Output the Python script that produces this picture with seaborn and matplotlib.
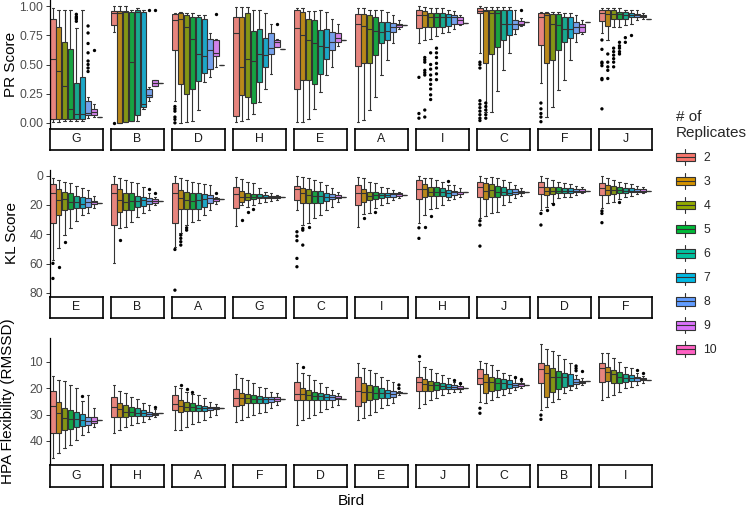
import numpy as np
import pandas as pd
import matplotlib
matplotlib.use("Agg")
import matplotlib.pyplot as plt
import seaborn as sns
from matplotlib.patches import Rectangle
from matplotlib.lines import Line2D
from matplotlib.legend_handler import HandlerBase

sns.set_style("white")
plt.rcParams["font.family"] = ["Liberation Sans", "DejaVu Sans"]

reps = ["2", "3", "4", "5", "6", "7", "8", "9", "10"]
rep_colors = ["#F8766D", "#D39200", "#93AA00", "#00BA38", "#00C19F",
              "#00B9E3", "#619CFF", "#DB72FB", "#FF61C3"]

# ---- PR score: (lower whisker, q1, median, q3, upper whisker) per replicate count
pr_birds = ["G", "B", "D", "H", "E", "A", "I", "C", "F", "J"]
pr_stats = {
  "G": [(0.01, 0.037, 0.55, 0.886, 0.98), (0.01, 0.03, 0.443, 0.82, 0.97), (0.02, 0.03, 0.314, 0.694, 0.97),
        (0.02, 0.03, 0.123, 0.63, 0.966), (0.02, 0.03, 0.075, 0.343, 0.81), (0.02, 0.03, 0.08, 0.39, 0.966),
        (0.04, 0.066, 0.086, 0.19, 0.22), (0.05, 0.066, 0.09, 0.12, 0.16), (0.05,)],
  "B": [(0.78, 0.84, 0.94, 0.96, 1.0), (0.0, 0.0, 0.94, 0.957, 1.0), (0.005, 0.005, 0.946, 0.957, 1.0),
        (0.02, 0.02, 0.52, 0.951, 0.97), (0.02, 0.066, 0.951, 0.966, 0.98), (0.12, 0.14, 0.16, 0.951, 0.966),
        (0.19, 0.22, 0.24, 0.29, 0.31), (0.32, 0.32, 0.345, 0.37, 0.37), (0.34,)],
  "D": [(0.19, 0.62, 0.88, 0.931, 0.937), (0.0, 0.33, 0.89, 0.937, 0.946), (0.01, 0.25, 0.82, 0.923, 0.94),
        (0.02, 0.29, 0.72, 0.909, 0.937), (0.11, 0.36, 0.59, 0.903, 0.923), (0.35, 0.43, 0.57, 0.889, 0.923),
        (0.39, 0.46, 0.62, 0.72, 0.766), (0.48, 0.57, 0.6, 0.71, 0.72), (0.5,)],
  "H": [(0.01, 0.06, 0.77, 0.91, 0.99), (0.02, 0.24, 0.48, 0.91, 0.99), (0.03, 0.22, 0.55, 0.94, 0.994),
        (0.08, 0.17, 0.53, 0.79, 0.97), (0.18, 0.35, 0.59, 0.8, 0.966), (0.29, 0.48, 0.58, 0.73, 0.943),
        (0.42, 0.59, 0.64, 0.77, 0.851), (0.646, 0.65, 0.69, 0.714, 0.72), (0.63,)],
  "E": [(0.01, 0.29, 0.81, 0.971, 0.98), (0.01, 0.37, 0.75, 0.951, 0.98), (0.037, 0.37, 0.71, 0.889, 0.957),
        (0.123, 0.33, 0.68, 0.88, 0.957), (0.266, 0.42, 0.66, 0.794, 0.966), (0.41, 0.55, 0.65, 0.8, 0.951),
        (0.48, 0.62, 0.69, 0.78, 0.894), (0.66, 0.69, 0.73, 0.77, 0.851), (0.71,)],
  "A": [(0.01, 0.49, 0.85, 0.931, 0.98), (0.023, 0.51, 0.83, 0.931, 0.98), (0.11, 0.51, 0.8, 0.923, 0.966),
        (0.22, 0.58, 0.79, 0.909, 0.966), (0.41, 0.68, 0.78, 0.866, 0.966), (0.54, 0.71, 0.79, 0.866, 0.951),
        (0.68, 0.78, 0.82, 0.857, 0.923), (0.8, 0.82, 0.837, 0.851, 0.88), (0.837,)],
  "I": [(0.68, 0.81, 0.92, 0.971, 1.0), (0.71, 0.823, 0.92, 0.957, 0.994), (0.72, 0.817, 0.903, 0.943, 0.98),
        (0.74, 0.823, 0.909, 0.943, 0.98), (0.766, 0.823, 0.909, 0.937, 0.98), (0.78, 0.829, 0.909, 0.931, 0.97),
        (0.8, 0.846, 0.903, 0.923, 0.96), (0.837, 0.851, 0.88, 0.903, 0.923), (0.857,)],
  "C": [(0.6, 0.94, 0.96, 0.98, 1.0), (0.09, 0.51, 0.957, 0.971, 0.99), (0.09, 0.59, 0.94, 0.971, 0.99),
        (0.27, 0.65, 0.937, 0.971, 0.99), (0.45, 0.71, 0.85, 0.971, 0.994), (0.6, 0.75, 0.85, 0.971, 0.99),
        (0.76, 0.8, 0.85, 0.88, 0.97), (0.83, 0.84, 0.85, 0.87, 0.9), (0.86,)],
  "F": [(0.34, 0.67, 0.91, 0.937, 0.951), (0.05, 0.51, 0.92, 0.937, 0.951), (0.14, 0.54, 0.85, 0.931, 0.951),
        (0.28, 0.62, 0.84, 0.931, 0.951), (0.37, 0.69, 0.8, 0.909, 0.937), (0.54, 0.73, 0.8, 0.903, 0.937),
        (0.69, 0.77, 0.82, 0.866, 0.923), (0.76, 0.78, 0.82, 0.851, 0.88), (0.86,)],
  "J": [(0.77, 0.87, 0.94, 0.971, 0.98), (0.71, 0.83, 0.93, 0.966, 0.98), (0.82, 0.886, 0.931, 0.966, 0.98),
        (0.82, 0.894, 0.931, 0.951, 0.98), (0.837, 0.894, 0.923, 0.946, 0.97), (0.846, 0.903, 0.923, 0.937, 0.966),
        (0.88, 0.909, 0.923, 0.931, 0.966), (0.886, 0.903, 0.914, 0.923, 0.943), (0.886,)],
}
pr_out = {
  "G": {"6": [0.93, 0.91, 0.9, 0.89, 0.87], "8": [0.83, 0.77, 0.68, 0.6, 0.53, 0.5, 0.47, 0.44], "9": [0.62]},
  "B": {"2": [0.0], "8": [0.97], "9": [0.97]},
  "D": {"2": [0.14, 0.12, 0.1, 0.05, 0.03, 0.0], "9": [0.93]},
  "H": {"9": [0.85]},
  "I": {"2": [0.39, 0.08, 0.04], "3": [0.56, 0.54, 0.52, 0.45, 0.43, 0.41, 0.11, 0.05],
        "4": [0.6, 0.5, 0.46, 0.41, 0.37, 0.33, 0.29, 0.24, 0.2], "5": [0.64, 0.6, 0.56, 0.51, 0.47, 0.42, 0.37]},
  "C": {"2": [0.52, 0.5, 0.47, 0.19, 0.16, 0.13, 0.1, 0.07, 0.04, 0.02], "3": [0.17, 0.14, 0.11, 0.07, 0.04], "9": [0.97]},
  "F": {"2": [0.17, 0.12, 0.08, 0.05, 0.01]},
  "J": {"2": [0.71, 0.63, 0.52, 0.51, 0.49, 0.38, 0.37, 0.12], "3": [0.59, 0.52, 0.48, 0.45, 0.38],
        "4": [0.64, 0.61, 0.58, 0.55, 0.52, 0.48], "5": [0.69, 0.66, 0.64, 0.61, 0.59], "6": [0.73, 0.69], "7": [0.75]},
}

# ---- KL score
kl_birds = ["E", "B", "A", "G", "C", "I", "H", "J", "D", "F"]
kl_stats = {
  "E": [(1.8, 5.7, 12.1, 32.6, 57.7), (3.0, 9.3, 16.6, 26.9, 49.7), (4.1, 11.0, 16.2, 23.5, 40.6),
        (5.2, 12.1, 17.8, 23.0, 36.0), (7.1, 13.9, 17.8, 22.3, 30.8), (8.7, 14.4, 19.4, 22.3, 26.9),
        (9.8, 15.5, 17.8, 21.2, 25.8), (13.9, 17.1, 18.2, 19.4, 21.9), (18.5,)],
  "B": [(0.0, 5.7, 12.1, 33.7, 59.9), (1.8, 9.3, 16.6, 24.6, 36.0), (3.0, 12.1, 17.8, 23.5, 34.9),
        (4.1, 12.1, 17.1, 23.5, 31.5), (5.2, 13.9, 17.1, 21.2, 28.0), (7.5, 14.4, 16.6, 20.7, 25.8),
        (11.5, 15.5, 17.1, 19.4, 23.5), (14.4, 16.2, 17.1, 18.5, 20.1), (17.1,)],
  "A": [(0.2, 4.8, 12.1, 32.6, 48.5), (1.8, 9.8, 15.5, 23.0, 39.4), (3.0, 10.9, 16.6, 23.0, 33.7),
        (4.1, 12.1, 17.1, 23.0, 31.5), (5.2, 12.1, 16.6, 23.0, 30.3), (5.7, 12.5, 16.2, 21.2, 26.9),
        (6.4, 13.2, 15.5, 18.5, 23.5), (14.4, 15.3, 15.9, 17.1, 19.4), (16.2,)],
  "G": [(0.7, 7.5, 12.7, 22.3, 34.2), (2.3, 10.5, 14.3, 17.8, 20.0), (4.1, 12.0, 14.3, 16.6, 21.2),
        (5.2, 12.5, 14.3, 15.9, 20.1), (8.7, 12.8, 14.3, 15.5, 18.9), (10.9, 13.2, 14.4, 15.5, 18.2),
        (12.1, 13.6, 14.4, 15.1, 17.4), (13.2, 14.0, 14.6, 15.1, 16.6), (14.8,)],
  "C": [(0.0, 7.1, 9.3, 16.6, 23.5), (0.7, 8.7, 12.1, 18.9, 33.7), (1.8, 9.3, 13.2, 18.5, 32.6),
        (3.0, 10.3, 13.9, 18.5, 29.2), (4.1, 10.3, 13.9, 18.5, 26.9), (6.4, 11.6, 14.4, 17.1, 23.5),
        (8.7, 12.5, 14.4, 16.2, 21.2), (10.9, 13.2, 14.4, 15.5, 17.8), (14.4,)],
  "I": [(0.7, 6.4, 12.1, 20.1, 34.9), (1.8, 9.3, 12.1, 17.8, 26.0), (4.1, 10.9, 13.9, 16.6, 25.8),
        (5.2, 10.9, 13.2, 16.2, 22.0), (7.5, 11.6, 13.2, 15.5, 20.1), (8.7, 12.1, 13.2, 14.8, 18.5),
        (9.8, 12.1, 12.8, 14.4, 16.6), (10.9, 12.1, 12.8, 13.9, 15.3), (13.2,)],
  "H": [(0.2, 3.0, 9.3, 16.2, 32.6), (1.8, 5.7, 9.3, 14.8, 26.9), (1.8, 7.5, 10.9, 13.9, 22.9),
        (3.0, 8.0, 10.9, 13.9, 22.3), (4.1, 8.7, 10.9, 13.9, 20.1), (6.4, 9.8, 11.6, 14.4, 16.6),
        (6.4, 10.3, 11.4, 13.2, 16.2), (8.7, 10.9, 11.4, 12.3, 14.4), (11.4,)],
  "J": [(0.2, 4.1, 8.0, 14.4, 29.2), (1.8, 5.2, 10.3, 16.2, 27.6), (0.7, 5.7, 9.8, 14.8, 25.8),
        (1.8, 7.1, 10.9, 14.4, 24.6), (3.0, 8.0, 10.9, 13.2, 20.1), (4.1, 9.3, 11.6, 13.2, 17.8),
        (6.4, 9.3, 11.1, 12.5, 15.5), (8.7, 10.3, 11.4, 12.1, 13.9), (11.4,)],
  "D": [(0.2, 4.1, 7.5, 12.5, 23.5), (1.8, 7.5, 10.3, 13.2, 21.2), (3.0, 8.0, 10.3, 12.5, 18.5),
        (4.1, 8.0, 10.3, 12.1, 15.5), (5.2, 8.7, 10.3, 12.1, 14.8), (5.7, 8.7, 10.3, 11.6, 14.4),
        (7.1, 9.1, 10.3, 11.4, 13.2), (7.5, 9.1, 10.3, 10.9, 12.1), (10.3,)],
  "F": [(0.2, 5.2, 8.7, 13.2, 22.3), (1.8, 6.4, 9.8, 13.2, 18.9), (3.0, 7.1, 9.8, 12.5, 17.8),
        (4.1, 7.5, 9.8, 12.1, 16.2), (5.2, 8.7, 10.3, 11.6, 14.8), (5.7, 8.7, 10.3, 11.4, 13.9),
        (7.1, 9.1, 10.3, 11.1, 12.5), (8.0, 9.3, 10.3, 10.9, 12.1), (10.3,)],
}
kl_out = {
  "E": {"2": [59.9, 70.2], "3": [62.2], "4": [45.1]},
  "B": {"3": [44.0], "8": [9.3], "9": [12.1]},
  "A": {"2": [50.4, 78.2], "3": [40.6, 42.8, 45.1, 47.4], "4": [35.6, 37.2], "9": [12.1]},
  "G": {"3": [30.3], "4": [25.0], "5": [23.0]},
  "C": {"2": [38.3, 41.3, 44.4, 56.5, 62.2], "3": [36.0, 37.2, 47.4], "4": [35.3]},
  "I": {"3": [29.0], "5": [24.6]},
  "H": {"2": [35.6, 42.8], "3": [34.9], "4": [27.6], "7": [3.4]},
  "J": {"2": [30.8, 33.7, 48.1]},
  "D": {"2": [25.8, 33.7], "3": [23.5], "4": [19.6]},
  "F": {"2": [24.1, 25.8, 32.1], "5": [17.8]},
}

# ---- HPA flexibility (RMSSD)
hpa_birds = ["G", "H", "A", "F", "D", "E", "J", "C", "B", "I"]
hpa_stats = {
  "G": [(15.4, 21.0, 26.8, 36.9, 46.6), (16.9, 25.1, 29.3, 36.9, 44.7), (17.2, 27.6, 31.4, 35.8, 42.8),
        (18.8, 28.3, 31.8, 35.6, 41.5), (20.1, 28.9, 31.8, 34.8, 39.6), (25.0, 29.8, 32.1, 34.3, 37.7),
        (22.6, 30.8, 32.4, 34.0, 36.5), (27.6, 31.1, 32.4, 33.3, 34.6), (32.1,)],
  "H": [(18.8, 23.5, 27.0, 30.8, 37.1), (21.0, 25.5, 28.0, 30.8, 35.8), (22.0, 26.4, 28.9, 30.8, 34.6),
        (23.2, 27.3, 28.9, 30.5, 34.0), (24.2, 27.6, 29.3, 30.5, 33.1), (25.5, 28.3, 29.5, 30.5, 32.7),
        (26.4, 28.9, 29.8, 30.4, 31.8), (28.0, 29.3, 29.6, 30.2, 31.1), (29.5,)],
  "A": [(19.2, 22.6, 26.0, 28.3, 35.8), (20.1, 24.5, 26.8, 28.9, 35.8), (21.3, 25.1, 27.3, 28.5, 34.8),
        (22.2, 25.8, 27.3, 28.5, 33.6), (22.6, 26.4, 27.5, 28.5, 32.7), (23.9, 26.8, 27.6, 28.5, 32.1),
        (25.1, 27.0, 27.6, 28.3, 30.8), (26.0, 27.3, 27.6, 28.0, 30.2), (27.6,)],
  "F": [(14.7, 20.5, 23.9, 26.8, 32.7), (16.3, 22.0, 23.9, 26.4, 32.1), (16.9, 22.2, 23.9, 25.8, 30.8),
        (18.2, 22.6, 24.2, 25.8, 30.2), (19.5, 23.0, 24.2, 25.8, 29.5), (20.1, 23.2, 24.2, 25.5, 28.9),
        (21.3, 23.5, 24.2, 25.1, 27.6), (22.0, 23.5, 24.2, 24.7, 26.4), (24.2,)],
  "D": [(10.6, 17.6, 22.2, 24.5, 34.0), (14.4, 20.1, 22.2, 24.5, 32.1), (15.0, 20.7, 22.6, 24.5, 31.4),
        (16.9, 21.3, 23.0, 24.5, 30.2), (18.2, 21.7, 23.0, 24.5, 28.9), (19.5, 22.2, 23.2, 24.5, 28.0),
        (20.7, 22.6, 23.5, 24.5, 27.3), (21.7, 23.0, 23.9, 24.2, 26.4), (24.2,)],
  "E": [(10.6, 15.9, 21.0, 26.8, 32.1), (12.5, 17.9, 21.3, 25.1, 31.4), (13.2, 18.8, 21.3, 24.5, 30.2),
        (14.4, 19.2, 21.7, 24.2, 28.9), (15.7, 20.1, 21.7, 23.9, 27.6), (16.9, 20.7, 22.0, 23.9, 26.4),
        (17.6, 21.0, 22.2, 23.5, 25.8), (21.0, 21.3, 21.7, 22.0, 22.6), (21.7,)],
  "J": [(9.6, 15.7, 17.6, 21.0, 27.6), (11.9, 16.7, 18.4, 21.0, 26.0), (12.9, 17.2, 18.8, 21.0, 24.5),
        (14.4, 17.6, 18.8, 20.7, 23.9), (15.0, 17.9, 19.2, 20.5, 22.6), (16.3, 18.4, 19.5, 20.5, 22.0),
        (17.6, 18.8, 19.5, 20.5, 21.3), (18.4, 19.2, 19.8, 20.5, 21.3), (19.8,)],
  "C": [(9.6, 12.9, 16.3, 18.4, 25.1), (10.6, 14.7, 17.6, 21.7, 25.8), (11.3, 15.7, 17.6, 21.0, 24.5),
        (13.2, 16.3, 17.9, 20.7, 23.5), (14.2, 16.7, 18.2, 20.5, 22.6), (15.0, 16.9, 18.4, 20.1, 21.7),
        (16.3, 17.9, 18.8, 19.5, 20.7), (17.2, 17.9, 18.4, 19.2, 20.1), (18.8,)],
  "B": [(3.3, 10.6, 12.9, 17.9, 28.3), (5.0, 11.3, 14.4, 23.2, 27.3), (5.8, 12.5, 15.7, 21.3, 25.1),
        (7.5, 13.4, 15.7, 20.5, 24.0), (9.1, 14.2, 15.9, 19.5, 22.0), (10.6, 14.7, 18.8, 19.2, 20.7),
        (15.0, 16.7, 17.5, 18.4, 20.1), (16.3, 17.1, 17.5, 17.9, 18.8), (17.3,)],
  "I": [(6.6, 10.6, 12.5, 17.6, 24.5), (6.8, 11.9, 13.8, 17.2, 23.5), (8.4, 13.2, 14.7, 18.2, 22.6),
        (10.0, 13.8, 15.7, 17.9, 21.3), (11.9, 14.7, 16.3, 17.6, 20.1), (12.5, 15.0, 16.0, 17.2, 19.5),
        (14.2, 15.7, 16.3, 17.2, 18.8), (15.4, 16.0, 16.5, 16.9, 17.9), (16.9,)],
}
hpa_out = {
  "G": {"7": [23.0]},
  "H": {"9": [27.3]},
  "A": {"3": [18.8], "4": [20.5], "5": [21.3]},
  "D": {"3": [11.9]},
  "E": {"9": [18.8, 20.1]},
  "J": {"2": [7.9], "8": [16.8], "9": [17.9]},
  "C": {"2": [27.6, 29.5], "8": [15.7], "9": [16.7]},
  "B": {"2": [30.2, 31.8], "8": [11.6, 12.5, 13.4], "9": [13.4]},
  "I": {"8": [13.2], "9": [14.4]},
}


def long_boxes(birds, stats):
  rows = []
  for b in birds:
    for r, five in zip(reps, stats[b]):
      if len(five) == 1:
        five = five * 5
      for v in five:
        rows.append((b, r, v))
  return pd.DataFrame(rows, columns=["bird", "reps", "value"])


def long_outliers(out):
  rows = []
  for b, d in out.items():
    for r, vals in d.items():
      for v in vals:
        rows.append((b, r, v))
  return pd.DataFrame(rows, columns=["bird", "reps", "value"])


W, H = 746, 508
fig = plt.figure(figsize=(W / 100, H / 100), dpi=100)

col_left = [50 + 61 * j for j in range(10)]
panel_w = 52.7
strip_h = 21.5
pal = dict(zip(reps, rep_colors))
black = {r: "black" for r in reps}


def frac(x, y_top, w, h):
  return [x / W, 1 - (y_top + h) / H, w / W, h / H]


rows = [
  dict(birds=pr_birds, stats=pr_stats, out=pr_out, top=0.3, bottom=128.7, ylim=(-0.05, 1.05),
       ticks=[0, 0.25, 0.5, 0.75, 1.0], ticklabels=["0.00", "0.25", "0.50", "0.75", "1.00"],
       label="PR Score", label_x=11),
  dict(birds=kl_birds, stats=kl_stats, out=kl_out, top=170.0, bottom=296.6, ylim=(82.6, -3.9),
       ticks=[0, 20, 40, 60, 80], ticklabels=["0", "20", "40", "60", "80"],
       label="KL Score", label_x=12),
  dict(birds=hpa_birds, stats=hpa_stats, out=hpa_out, top=338.0, bottom=465.0, ylim=(49.1, 1.0),
       ticks=[10, 20, 30, 40], ticklabels=["10", "20", "30", "40"],
       label="HPA Flexibility (RMSSD)", label_x=8),
]

for row in rows:
  box_df = long_boxes(row["birds"], row["stats"])
  out_df = long_outliers(row["out"])
  ph = row["bottom"] - row["top"]
  for j, bird in enumerate(row["birds"]):
    ax = fig.add_axes(frac(col_left[j], row["top"], panel_w, ph))
    sub = box_df[box_df.bird == bird]
    sns.boxplot(data=sub, x="bird", y="value", hue="reps", hue_order=reps, palette=pal,
                whis=(0, 100), width=0.8, gap=0.1, linewidth=0.8, linecolor="#333333",
                showfliers=False, legend=False, ax=ax)
    osub = out_df[out_df.bird == bird] if len(out_df) else out_df
    if len(osub):
      sns.stripplot(data=osub, x="bird", y="value", hue="reps", hue_order=reps, palette=black,
                    dodge=True, jitter=False, size=2.4, legend=False, ax=ax)
    ax.set_xlim(-0.4, 0.4)
    ax.set_ylim(*row["ylim"])
    ax.set_xlabel("")
    ax.set_ylabel("")
    ax.set_xticks([])
    ax.set_facecolor("white")
    for s in ["top", "right", "bottom"]:
      ax.spines[s].set_visible(False)
    if j == 0:
      ax.spines["left"].set_color("black")
      ax.spines["left"].set_linewidth(0.9)
      ax.set_yticks(row["ticks"])
      ax.set_yticklabels(row["ticklabels"])
      ax.tick_params(axis="y", left=True, length=2.75, width=0.7, color="#333333",
                     labelcolor="#4D4D4D", labelsize=8.8, pad=2.2)
    else:
      ax.spines["left"].set_visible(False)
      ax.set_yticks([])

    # facet strip below the panel
    sax = fig.add_axes(frac(col_left[j], row["bottom"], panel_w, strip_h))
    sax.set_xticks([])
    sax.set_yticks([])
    sax.set_facecolor("white")
    for s in sax.spines.values():
      s.set_visible(True)
      s.set_color("black")
      s.set_linewidth(1.2)
    sax.text(0.5, 0.5, bird, ha="center", va="center", fontsize=8.8, color="#1A1A1A",
             transform=sax.transAxes)

  fig.text(row["label_x"] / W, 1 - (row["top"] + ph / 2) / H, row["label"], rotation=90,
           ha="center", va="center", fontsize=11, color="black")

fig.text(351.5 / W, 1 - 501 / H, "Bird", ha="center", va="center", fontsize=11, color="black")


class BoxKey(HandlerBase):
  def create_artists(self, legend, orig_handle, xdescent, ydescent, width, height, fontsize, trans):
    x0, y0 = -xdescent, -ydescent
    fc = orig_handle.get_facecolor()
    lw = 0.8
    box = Rectangle((x0, y0 + 0.2 * height), width, 0.6 * height, facecolor=fc,
                    edgecolor="#333333", linewidth=lw, transform=trans)
    med = Line2D([x0, x0 + width], [y0 + 0.5 * height] * 2, color="#333333", linewidth=lw, transform=trans)
    wl = Line2D([x0 + width / 2] * 2, [y0 - 0.05 * height, y0 + 0.2 * height], color="#333333",
                linewidth=lw, transform=trans)
    wh = Line2D([x0 + width / 2] * 2, [y0 + 0.8 * height, y0 + 1.05 * height], color="#333333",
                linewidth=lw, transform=trans)
    return [wl, wh, box, med]


handles = [Rectangle((0, 0), 1, 1, facecolor=c) for c in rep_colors]
leg = fig.legend(handles, reps, handler_map={Rectangle: BoxKey()}, title="# of\nReplicates",
                 loc="upper left", bbox_to_anchor=(676 / W, 1 - 110 / H), frameon=False,
                 fontsize=8.8, title_fontsize=11, handlelength=1.55, handleheight=1.45,
                 labelspacing=0.78, handletextpad=0.7, borderpad=0, borderaxespad=0,
                 alignment="left")

plt.savefig("out.png", dpi=100)
